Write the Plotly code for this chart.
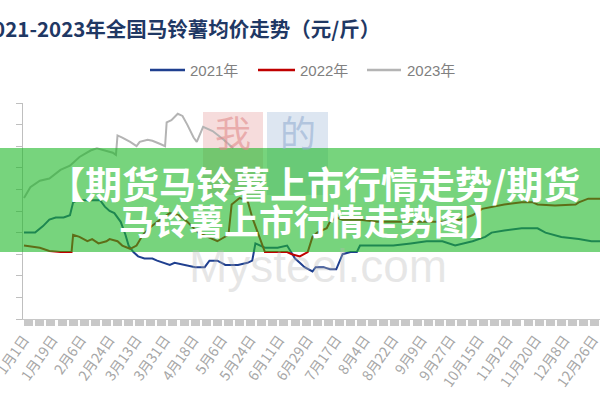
import plotly.graph_objects as go

# ---------------- data (month-day, yuan/jin) ----------------
dates_2021 = ["01-01","01-08","01-13","01-17","01-21","01-26","01-30","02-01","02-04","02-10",
              "02-16","02-18","02-21","02-24","02-27","03-03","03-06","03-08","03-11","03-14",
              "03-18","03-23","03-26","03-30","04-03","04-06","04-13","04-19","04-25","04-28",
              "05-03","05-08","05-16","05-22","05-25","05-27","06-02","06-10","06-16","06-21",
              "06-24","06-27","07-02","07-04","07-09","07-13","07-17","07-19","07-21","07-26",
              "07-30","08-01","08-12","08-22","09-02","09-12","09-22","09-30","10-11","10-19",
              "10-23","10-31","11-11","11-21","11-26","12-06","12-17","12-25","12-31"]
price_2021 = [1.30,1.30,1.33,1.36,1.37,1.37,1.38,1.44,1.45,1.45,
              1.45,1.45,1.42,1.40,1.39,1.35,1.29,1.24,1.21,1.19,
              1.18,1.18,1.17,1.16,1.15,1.16,1.15,1.14,1.14,1.17,
              1.17,1.15,1.15,1.16,1.17,1.25,1.23,1.23,1.24,1.18,
              1.16,1.14,1.12,1.14,1.14,1.13,1.13,1.17,1.20,1.21,
              1.21,1.24,1.24,1.24,1.25,1.26,1.26,1.24,1.26,1.28,
              1.30,1.31,1.32,1.32,1.30,1.28,1.27,1.26,1.26]

dates_2022 = ["01-01","01-05","01-11","01-17","01-24","01-31","02-01","02-05","02-10","02-13",
              "02-17","02-22","02-24","03-01","03-04","03-09","03-13","03-17","03-21","03-26",
              "03-30","04-03","04-09","04-14","04-21","04-27","05-03","05-10","05-12","05-17",
              "05-22","05-25","05-28","05-31","06-02","06-10","06-16","06-19","06-24","06-29",
              "06-30","07-02","07-05","07-11","07-13","07-17","07-21","08-01","08-12","08-22",
              "09-02","09-12","09-22","10-03","10-11","10-17","10-21","10-31","11-11","11-18",
              "11-21","12-02","12-15","12-17","12-23","12-31"]
price_2022 = [1.24,1.235,1.23,1.215,1.21,1.21,1.29,1.28,1.26,1.27,
              1.25,1.26,1.27,1.26,1.24,1.225,1.24,1.29,1.32,1.35,
              1.37,1.39,1.38,1.35,1.30,1.28,1.26,1.29,1.43,1.46,
              1.45,1.37,1.31,1.25,1.21,1.21,1.21,1.20,1.19,1.21,
              1.235,1.28,1.30,1.32,1.35,1.37,1.36,1.36,1.35,1.35,
              1.35,1.35,1.35,1.36,1.38,1.41,1.415,1.43,1.44,1.44,
              1.43,1.425,1.43,1.44,1.457,1.457]

dates_2023 = ["01-01","01-05","01-11","01-17","01-24","01-30","02-05","02-12","02-16","02-21",
              "02-26","02-28","03-01","03-04","03-09","03-13","03-15","03-20","03-23","03-28",
              "03-31","04-01","04-04","04-08","04-11","04-14","04-18","04-20","04-24","04-30",
              "05-07","05-13"]
price_2023 = [1.46,1.51,1.54,1.55,1.59,1.61,1.65,1.68,1.69,1.68,
              1.67,1.66,1.75,1.74,1.72,1.70,1.72,1.73,1.725,1.71,
              1.70,1.81,1.82,1.85,1.84,1.80,1.74,1.72,1.79,1.77,
              1.73,1.69]

tick_dates = ["01-01","01-19","02-06","02-24","03-13","03-31","04-18","05-06","05-24","06-11",
              "06-29","07-17","08-04","08-22","09-09","09-27","10-15","11-02","11-20","12-08","12-26"]
tick_labels = ["1月1日","1月19日","2月6日","2月24日","3月13日","3月31日","4月18日","5月6日","5月24日",
               "6月11日","6月29日","7月17日","8月4日","8月22日","9月9日","9月27日","10月15日","11月2日",
               "11月20日","12月8日","12月26日"]
y_ticks = [0.9,1.0,1.1,1.2,1.3,1.4,1.5,1.6,1.7,1.8,1.9]

series_names = ["2021年", "2022年", "2023年"]
series_colors = ["#1F3F8F", "#C00000", "#B4B4B4"]

YEAR = "2001-"  # common dummy year so the three years overlay by month/day

# ---------------- layout helpers (pixel -> paper) ----------------
W, H = 600, 400
L, R, T, B = 23, 0, 103, 81
PW, PH = W - L - R, H - T - B
def px(x):
    return (x - L) / PW
def py(y):
    return (H - B - y) / PH

fig = go.Figure()
for name, d, v, c in zip(series_names, [dates_2021, dates_2022, dates_2023],
                         [price_2021, price_2022, price_2023], series_colors):
    fig.add_trace(go.Scatter(x=[YEAR + s for s in d], y=v, mode="lines", name=name,
                             line=dict(color=c, width=2), showlegend=False))

shapes = []
# watermark boxes (below traces)
shapes.append(dict(type="rect", x0=px(203), x1=px(263), y0=py(195), y1=py(112),
                   fillcolor="#F6DCDC", line_width=0, layer="below"))
shapes.append(dict(type="rect", x0=px(267), x1=px(328), y0=py(195), y1=py(112),
                   fillcolor="#DDE6F1", line_width=0, layer="below"))
# manual legend line samples
legend_line_x = [(150, 185), (258, 295), (367, 401)]
legend_text_x = [188, 298, 405]
for (a, b), c in zip(legend_line_x, series_colors):
    shapes.append(dict(type="line", x0=px(a), x1=px(b), y0=py(70), y1=py(70),
                       line=dict(color=c, width=2.5)))
# green banner (above traces, semi transparent)
shapes.append(dict(type="rect", x0=px(0), x1=px(602), y0=py(252), y1=py(148),
                   fillcolor="rgba(28,183,38,0.6)", line_width=0, layer="above"))
for s in shapes:
    s.update(xref="paper", yref="paper")

ann = []
for t, x in zip(series_names, legend_text_x):
    ann.append(dict(text=t, x=px(x), y=py(70), xanchor="left",
                    font=dict(size=15, color="#808080", family="Liberation Sans, Noto Sans CJK SC")))
ann.append(dict(text="我", x=px(233), y=py(131), font=dict(size=36, color="rgba(225,140,140,0.6)",
                family="Noto Sans CJK SC")))
ann.append(dict(text="的", x=px(298), y=py(131), font=dict(size=36, color="rgba(150,175,210,0.6)",
                family="Noto Sans CJK SC")))
ann.append(dict(text="Mysteel.com", x=px(318), y=py(266), font=dict(size=46, color="rgba(185,185,185,0.35)",
                family="Liberation Sans")))
ann.append(dict(text="2021-2023年全国马铃薯均价走势（元/斤）", x=px(-21), y=py(28), xanchor="left",
                font=dict(size=20.5, color="#1F3864", family="Noto Sans CJK SC", weight="bold")))
ann.append(dict(text="【期货马铃薯上市行情走势/期货", x=px(314), y=py(183),
                font=dict(size=37, color="white", family="Noto Sans CJK SC", weight="bold")))
ann.append(dict(text="马铃薯上市行情走势图】", x=px(311), y=py(219),
                font=dict(size=35, color="white", family="Noto Sans CJK SC", weight="bold")))
for a in ann:
    a.setdefault("xanchor", "center")
    a.update(xref="paper", yref="paper", yanchor="middle", showarrow=False)

fig.update_layout(
    width=W, height=H, margin=dict(l=L, r=R, t=T, b=B, autoexpand=False),
    plot_bgcolor="white", paper_bgcolor="white",
    showlegend=False, shapes=shapes, annotations=ann,
    xaxis=dict(type="date", range=["2000-12-31 08:53", "2001-12-30 09:36"],
               tickmode="array", tickvals=[YEAR + s for s in tick_dates], ticktext=tick_labels,
               tickangle=-55, ticks="", showline=True, linecolor="#C8C8C8", linewidth=1,
               ticklabelstandoff=6, ticklabeloverflow="allow",
               tickfont=dict(size=14, color="#A6A6A6", family="Noto Sans CJK SC"),
               minor=dict(ticks="outside", tickmode="linear", tick0="2000-12-28", dtick=7*86400000,
                          ticklen=6, tickwidth=9, tickcolor="#C8C8C8"),
               showgrid=False, zeroline=False, fixedrange=True, automargin=False),
    yaxis=dict(range=[0.9, 1.9], tickmode="array", tickvals=y_ticks, tickformat=".2f",
               ticks="outside", ticklen=6, tickcolor="#BFBFBF", showline=True, linecolor="#BFBFBF",
               ticklabelstandoff=14, ticklabeloverflow="allow", tickfont=dict(size=12, color="#595959"),
               showgrid=False, zeroline=False, fixedrange=True, automargin=False),
)

fig.write_html("out.html", config={"displayModeBar": False},
               post_script="document.body.style.margin='0';")
